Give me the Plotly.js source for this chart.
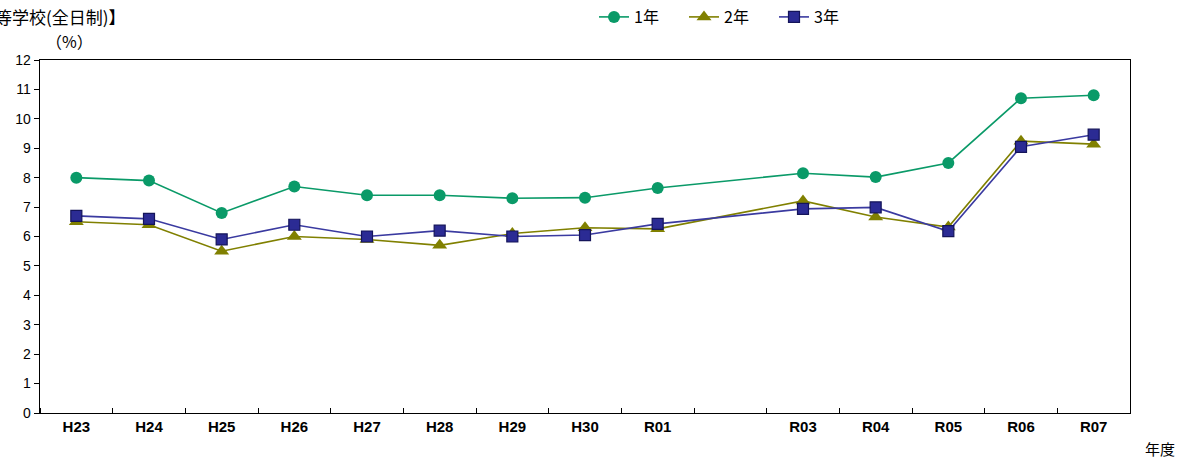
<!DOCTYPE html>
<html>
<head>
<meta charset="utf-8">
<script src="https://cdn.plot.ly/plotly-3.0.1.min.js"></script>
<style>html,body{margin:0;padding:0;background:#fff;}#chart{width:1188px;height:459px;}</style>
</head>
<body>
<div id="chart"></div>
<script>
// Fiscal years (R02 slot is left blank in the original chart)
const years = ['H23','H24','H25','H26','H27','H28','H29','H30','R01','R02','R03','R04','R05','R06','R07'];
const tickLabels = ['H23','H24','H25','H26','H27','H28','H29','H30','R01','','R03','R04','R05','R06','R07'];
const grade1 = [8.0, 7.9, 6.8, 7.7, 7.4, 7.4, 7.3, 7.32, 7.65, null, 8.15, 8.02, 8.5, 10.7, 10.8];
const grade2 = [6.5, 6.4, 5.5, 6.0, 5.9, 5.7, 6.1, 6.3, 6.26, null, 7.21, 6.66, 6.32, 9.24, 9.14];
const grade3 = [6.7, 6.6, 5.9, 6.4, 6.0, 6.2, 6.0, 6.05, 6.43, null, 6.94, 6.99, 6.18, 9.05, 9.46];
const seriesNames = ['1年','2年','3年'];

const xIdx = years.map((_, i) => i);
const jp = '"Noto Sans CJK JP", "Liberation Sans", Arial, sans-serif';

const traces = [
  {x: xIdx, y: grade1, name: seriesNames[0], mode: 'lines+markers', connectgaps: true,
   line: {color: '#0a9a68', width: 1.6},
   marker: {symbol: 'circle', size: 12, color: '#0a9a68'}},
  {x: xIdx, y: grade2, name: seriesNames[1], mode: 'lines+markers', connectgaps: true,
   line: {color: '#808000', width: 1.6},
   marker: {symbol: 'triangle-up', size: 13, color: '#808000'}},
  {x: xIdx, y: grade3, name: seriesNames[2], mode: 'lines+markers', connectgaps: true,
   line: {color: '#3a3aa0', width: 1.6},
   marker: {symbol: 'square', size: 11, color: '#2b2b94', line: {color: '#14145a', width: 1.2}}}
];

const layout = {
  width: 1188, height: 459,
  margin: {l: 40, r: 58, t: 60, b: 46},
  paper_bgcolor: '#fff', plot_bgcolor: '#fff',
  showlegend: true,
  legend: {orientation: 'h', xref: 'container', yref: 'container', x: 0.5, xanchor: 'left',
           y: 1.0, yanchor: 'top',
           font: {family: jp, size: 16, color: '#000'},
           entrywidth: 45, entrywidthmode: 'pixels',
           itemwidth: 30, tracegroupgap: 0},
  xaxis: {
    range: [-0.5, years.length - 0.5], tickmode: 'array', tickvals: xIdx, ticktext: tickLabels,
    ticks: '', showgrid: false, zeroline: false,
    showline: true, linecolor: '#000', linewidth: 1.3, mirror: true,
    tickfont: {family: '"Liberation Sans", Arial, sans-serif', size: 15, color: '#000', weight: 'bold'},
    minor: {tick0: 0.5, dtick: 1, ticks: 'inside', ticklen: 5, tickcolor: '#000', showgrid: false}
  },
  yaxis: {
    range: [0, 12], dtick: 1, tick0: 0, ticks: 'outside', ticklen: 5, tickcolor: '#000',
    showgrid: false, zeroline: false, showline: true, linecolor: '#000', linewidth: 1.3, mirror: true,
    tickfont: {family: '"Liberation Sans", Arial, sans-serif', size: 14, color: '#000'}
  },
  annotations: [
    {text: '【高等学校(全日制)】', xref: 'paper', yref: 'paper', x: 0.0807, y: 1.1246, xanchor: 'right', yanchor: 'middle',
     showarrow: false, font: {family: jp, size: 17, color: '#000'}},
    {text: '（%）', xref: 'paper', yref: 'paper', x: 0, y: 1.0, xanchor: 'left', yanchor: 'bottom',
     xshift: 4, yshift: 5, showarrow: false, font: {family: jp, size: 16, color: '#000'}},
    {text: '年度', xref: 'paper', yref: 'paper', x: 1, y: 0, xanchor: 'left', yanchor: 'top',
     xshift: 13, yshift: -23, showarrow: false, font: {family: jp, size: 15, color: '#000'}}
  ]
};

Plotly.newPlot('chart', traces, layout, {displayModeBar: false, staticPlot: true});
</script>
</body>
</html>
